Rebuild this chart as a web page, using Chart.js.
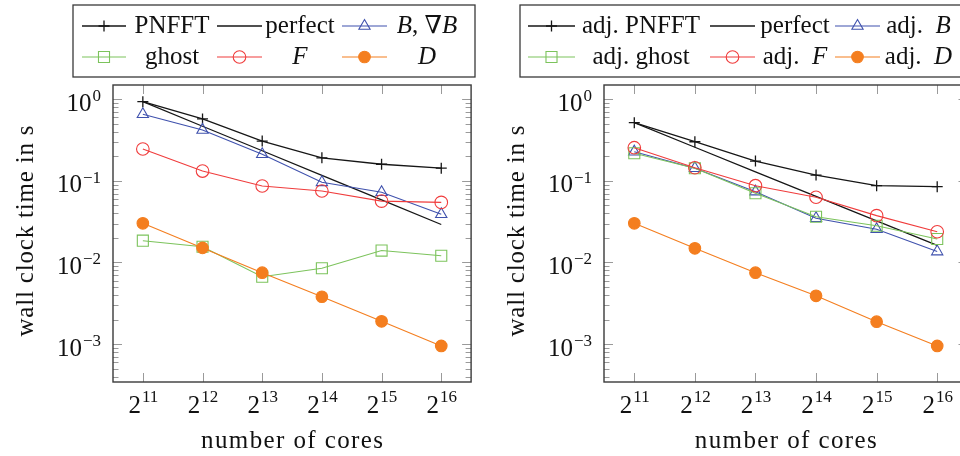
<!DOCTYPE html>
<html><head><meta charset="utf-8">
<script src="https://cdn.jsdelivr.net/npm/chart.js@4.4.1/dist/chart.umd.min.js"></script>
<style>
html,body{margin:0;padding:0;background:#fff;overflow:hidden;width:960px;height:456px;}
#wrap{position:relative;width:960px;height:456px;overflow:hidden;background:#fff;}
canvas{position:absolute;top:0;}
#c1{left:0;} #c2{left:480px;}
</style></head><body>
<div id="wrap"><canvas id="c1" width="480" height="456"></canvas><canvas id="c2" width="500" height="456"></canvas></div>
<script>
// ---------- data ----------
const cores = [2048, 4096, 8192, 16384, 32768, 65536];
const xTickLabels = [["2","11"],["2","12"],["2","13"],["2","14"],["2","15"],["2","16"]];
const yTickValues = [1, 0.1, 0.01, 0.001];
const yTickLabels = [["10","0"],["10","\u22121"],["10","\u22122"],["10","\u22123"]];

// left panel
const pnfft    = [0.935, 0.574, 0.308, 0.192, 0.160, 0.143];
const perfectL = [0.935, 0.4675, 0.234, 0.117, 0.0584, 0.0292];
const bGradB   = [0.655, 0.421, 0.212, 0.096, 0.0725, 0.039];
const ghost    = [0.0185, 0.0156, 0.0067, 0.0085, 0.0140, 0.0121];
const fVals    = [0.246, 0.132, 0.0866, 0.0752, 0.0565, 0.0545];
const dVals    = [0.0302, 0.0151, 0.0075, 0.0038, 0.0019, 0.00095];
// right panel
const adjPnfft = [0.517, 0.302, 0.175, 0.118, 0.0873, 0.0849];
const perfectR = [0.517, 0.2585, 0.129, 0.0646, 0.0323, 0.0162];
const adjB     = [0.228, 0.143, 0.0738, 0.0348, 0.0255, 0.0136];
const adjGhost = [0.218, 0.143, 0.0705, 0.0364, 0.0282, 0.0194];
const adjF     = [0.255, 0.145, 0.0873, 0.063, 0.0375, 0.0238];
const adjD     = [0.0302, 0.0149, 0.0075, 0.0039, 0.00188, 0.00095];

const labelsL = ["PNFFT", "perfect", [["B",1],[", ",0],["\u2207",0],["B",1]], "ghost", [["F",1]], [["D",1]]];
const labelsR = ["adj. PNFFT", "perfect", [["adj.  ",0],["B",1]], "adj. ghost", [["adj.  ",0],["F",1]], [["adj.  ",0],["D",1]]];

const xTitle = "number of cores";
const yTitle = "wall clock time in s";

// ---------- styles ----------
const serif = '"Liberation Serif","DejaVu Serif","Times New Roman",serif';
const BLACK = '#161616', BLUE = '#3f51ad', GREEN = '#7cc35c', RED = '#f03c3c', ORANGE = '#f47e1f';
const styles = [
  {color:BLACK, ps:'cross', r:5.5, fill:false, lw:1.3},
  {color:BLACK, ps:false, r:0, fill:false, lw:1.3},
  {color:BLUE, ps:'triangle', r:6.5, fill:false, lw:1.1},
  {color:GREEN, ps:'rect', r:7.8, fill:false, lw:1.1},
  {color:RED, ps:'circle', r:6.3, fill:false, lw:1.1},
  {color:ORANGE, ps:'circle', r:5.8, fill:true, lw:1.1}
];

function runsOf(l){ return typeof l === 'string' ? [[l,0]] : l; }
function fontStr(size, it){ return (it?'italic ':'') + size + 'px ' + serif; }
function runsWidth(ctx, runs, size){ let w=0; for (const [t,it] of runs){ ctx.font=fontStr(size,it); w+=ctx.measureText(t).width; } return w; }
function drawRuns(ctx, runs, size, cx, base){
  let x = cx - runsWidth(ctx, runs, size)/2;
  ctx.textAlign='left'; ctx.textBaseline='alphabetic';
  for (const [t,it] of runs){ ctx.font=fontStr(size,it); ctx.fillText(t,x,base); x+=ctx.measureText(t).width; }
}
function mark(ctx, st, x, y){
  if (!st.ps) return;
  const r = st.r;
  ctx.save(); ctx.strokeStyle=st.color; ctx.fillStyle=st.color; ctx.lineWidth=st.lw; ctx.beginPath();
  if (st.ps==='cross'){ ctx.moveTo(x-r,y); ctx.lineTo(x+r,y); ctx.moveTo(x,y-r); ctx.lineTo(x,y+r); ctx.stroke(); ctx.restore(); return; }
  if (st.ps==='triangle'){ let a=0; for (let k=0;k<3;k++){ const px=x+Math.sin(a)*r, py=y-Math.cos(a)*r; k?ctx.lineTo(px,py):ctx.moveTo(px,py); a+=2*Math.PI/3; } ctx.closePath(); }
  if (st.ps==='rect'){ const s=Math.SQRT1_2*r; ctx.rect(x-s,y-s,2*s,2*s); }
  if (st.ps==='circle'){ ctx.arc(x,y,r,0,2*Math.PI); }
  if (st.fill) ctx.fill();
  ctx.stroke(); ctx.restore();
}
function spacedText(ctx, text, x, y, spacing){
  ctx.save();
  if ('letterSpacing' in ctx) {
    ctx.letterSpacing = spacing + 'px';
    const w = ctx.measureText(text).width - spacing;
    ctx.textAlign = 'left';
    ctx.fillText(text, x - w/2, y);
  } else {
    ctx.textAlign = 'center'; ctx.fillText(text, x, y);
  }
  ctx.restore();
}

const decor = {
  id:'decor',
  beforeDatasetsDraw(chart, args, o){
    const ctx = chart.ctx, a = chart.chartArea, xs = chart.scales.x, ys = chart.scales.y;
    ctx.save();
    // ticks (inward, both sides)
    ctx.strokeStyle = '#9a9a9a'; ctx.lineWidth = 1;
    ctx.beginPath();
    for (const t of xs.ticks){
      const px = Math.round(xs.getPixelForValue(t.value)) + 0.5;
      ctx.moveTo(px, a.bottom); ctx.lineTo(px, a.bottom - 9);
      ctx.moveTo(px, a.top); ctx.lineTo(px, a.top + 9);
    }
    for (const t of ys.ticks){
      const py = Math.round(ys.getPixelForValue(t.value)) + 0.5;
      const L = t.major ? 9 : 5.5;
      ctx.moveTo(a.left, py); ctx.lineTo(a.left + L, py);
      ctx.moveTo(a.right, py); ctx.lineTo(a.right - L, py);
    }
    ctx.stroke();
    // box
    ctx.strokeStyle = '#3a3a3a'; ctx.lineWidth = 1.4;
    ctx.strokeRect(a.left, a.top, a.right - a.left, a.bottom - a.top);
    // tick labels
    ctx.fillStyle = '#111'; ctx.textBaseline = 'alphabetic'; ctx.textAlign = 'left';
    xs.ticks.forEach((t, i) => {
      const px = xs.getPixelForValue(t.value);
      const [b, e] = xTickLabels[i];
      ctx.font = fontStr(25); const wb = ctx.measureText(b).width;
      ctx.font = fontStr(17); const we = ctx.measureText(e).width;
      const x0 = px - (wb + we)/2;
      ctx.font = fontStr(25); ctx.fillText(b, x0, 413);
      ctx.font = fontStr(17); ctx.fillText(e, x0 + wb + 1, 402);
    });
    yTickValues.forEach((v, i) => {
      const py = ys.getPixelForValue(v);
      const [b, e] = yTickLabels[i];
      ctx.font = fontStr(17); const we = ctx.measureText(e).width;
      ctx.font = fontStr(25); const wb = ctx.measureText(b).width;
      const xr = a.left - 12;
      ctx.fillText(b, xr - we - wb - 1, py + 11.5);
      ctx.font = fontStr(17); ctx.fillText(e, xr - we, py + 2);
    });
    // axis titles
    ctx.font = fontStr(25);
    spacedText(ctx, xTitle, (a.left + a.right)/2, 448, 1.4);
    ctx.save();
    ctx.translate(a.left - 80, 231); ctx.rotate(-Math.PI/2);
    ctx.font = fontStr(25);
    spacedText(ctx, yTitle, 0, 0, 0.8);
    ctx.restore();
    ctx.restore();
  },
  afterDraw(chart, args, o){
    const ctx = chart.ctx;
    ctx.save();
    ctx.fillStyle = '#fff';
    ctx.fillRect(o.box[0], o.box[1], o.box[2]-o.box[0], o.box[3]-o.box[1]);
    ctx.strokeStyle = '#3a3a3a'; ctx.lineWidth = 1.3;
    ctx.strokeRect(o.box[0], o.box[1], o.box[2]-o.box[0], o.box[3]-o.box[1]);
    o.labels.forEach((lab, i) => {
      const col = i % 3, row = Math.floor(i/3);
      const st = styles[i];
      const ly = o.rows[row], [x1, x2] = o.lines[col];
      ctx.strokeStyle = st.color; ctx.lineWidth = st.lw;
      ctx.beginPath(); ctx.moveTo(x1, ly); ctx.lineTo(x2, ly); ctx.stroke();
      mark(ctx, st, (x1+x2)/2, ly);
      ctx.fillStyle = '#111';
      drawRuns(ctx, runsOf(lab), 25, o.texts[col], ly + 7);
    });
    ctx.restore();
  }
};

function makeChart(id, series, labels, yAxisWidth, padRight, legendOpts){
  const datasets = series.map((arr, i) => {
    const st = styles[i];
    return {
      label: typeof labels[i] === 'string' ? labels[i] : runsOf(labels[i]).map(r=>r[0]).join(''),
      data: cores.map((c, k) => ({x: c, y: arr[k]})),
      borderColor: st.color, borderWidth: st.lw,
      pointStyle: st.ps || 'circle', pointRadius: st.r, pointHoverRadius: st.r,
      pointBorderColor: st.color, pointBorderWidth: st.lw,
      pointBackgroundColor: st.fill ? st.color : 'rgba(0,0,0,0)',
      tension: 0, fill: false, order: 6 - i
    };
  });
  return new Chart(document.getElementById(id), {
    type: 'line',
    data: { datasets },
    options: {
      responsive: false, animation: false, devicePixelRatio: 1,
      layout: { padding: { top: 85, left: 0, right: padRight, bottom: 0 } },
      plugins: { legend: { display: false }, tooltip: { enabled: false }, decor: legendOpts },
      events: [],
      scales: {
        x: {
          type: 'logarithmic', min: Math.pow(2, 10.5), max: Math.pow(2, 16.5), bounds: 'data',
          ticks: { display: false }, grid: { display: false }, border: { display: false },
          afterBuildTicks: s => { s.ticks = cores.map(v => ({ value: v, major: true })); },
          afterFit: s => { s.height = 74; }
        },
        y: {
          type: 'logarithmic', min: 3.43e-4, max: 1.497, bounds: 'data',
          ticks: { display: false }, grid: { display: false }, border: { display: false },
          afterBuildTicks: s => {
            const t = [];
            for (let e = -4; e <= 0; e++) for (let m = 1; m <= 9; m++) {
              const v = m * Math.pow(10, e);
              if (v >= s.min && v <= s.max) t.push({ value: v, major: m === 1 });
            }
            s.ticks = t;
          },
          afterFit: s => { s.width = yAxisWidth; }
        }
      }
    },
    plugins: [decor]
  });
}

makeChart('c1', [pnfft, perfectL, bGradB, ghost, fVals, dVals], labelsL, 113, 4, {
  labels: labelsL, box: [73, 5, 475, 77], rows: [26, 57],
  lines: [[82, 126], [217, 262], [342, 387]], texts: [172, 300, 427]
});
makeChart('c2', [adjPnfft, perfectR, adjB, adjGhost, adjF, adjD], labelsR, 124, 12.5, {
  labels: labelsR, box: [40, 5, 540, 77], rows: [26, 57],
  lines: [[48, 95], [230, 275], [355, 400]], texts: [161, 315, 438.5]
});
</script>
</body></html>
